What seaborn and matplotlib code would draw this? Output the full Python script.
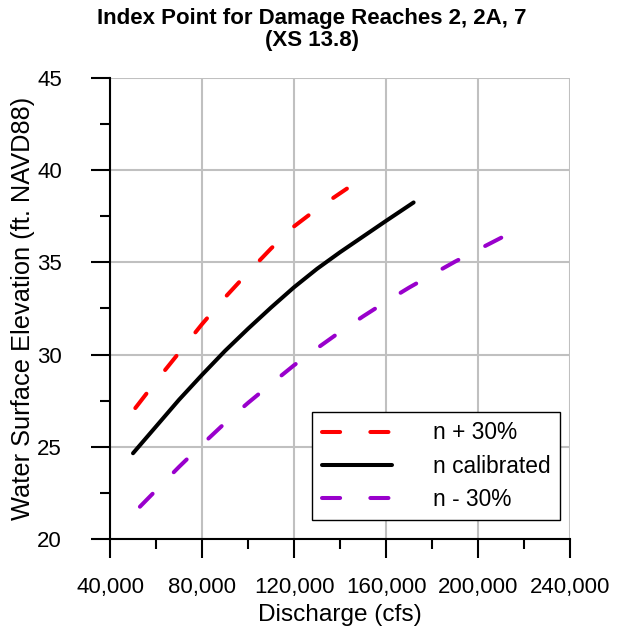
""" Rating curve sensitivity at index point XS 13.8 """

import numpy as np
import pandas as pd
import seaborn as sns
from matplotlib import pyplot as plt
from matplotlib.ticker import MultipleLocator, FuncFormatter

# Data
q_cal = [50000, 60000, 70000, 80000, 90000, 100000, 110000, 120000,
         130000, 140000, 150000, 160000, 172000]
wse_cal = [24.65, 26.1, 27.55, 28.9, 30.2, 31.4, 32.55, 33.65,
           34.65, 35.55, 36.4, 37.25, 38.25]

q_plus = [51000, 60000, 70000, 80000, 90000, 100000, 110000, 120000,
          130000, 143000]
wse_plus = [27.1, 28.55, 30.1, 31.65, 33.1, 34.45, 35.75, 36.95,
            37.9, 39.0]

q_minus = [53000, 60000, 70000, 80000, 90000, 100000, 110000, 120000,
           130000, 140000, 150000, 160000, 170000, 180000, 190000,
           200000, 212000]
wse_minus = [21.75, 22.64, 23.91, 25.12, 26.29, 27.38, 28.41, 29.42,
             30.34, 31.23, 32.07, 32.87, 33.63, 34.34, 35.04, 35.69,
             36.46]

labels = ['n + 30%', 'n calibrated', 'n - 30%']
colors = ['#ff0000', '#000000', '#9900cc']

xticks = [40000, 80000, 120000, 160000, 200000, 240000]
yticks = [20, 25, 30, 35, 40, 45]

# #############################################
sns.set_theme(style='white')
plt.rcParams['font.family'] = ['Liberation Sans', 'DejaVu Sans']
plt.rcParams['text.color'] = 'black'
plt.rcParams['axes.labelcolor'] = 'black'

fig = plt.figure(figsize=(6.24, 6.35), dpi=100)
ax = fig.add_axes([0.1763, 0.1512, 0.7372, 0.726])

dash = (0, (4.5, 7.5))
series = [(q_plus, wse_plus, dash), (q_cal, wse_cal, '-'),
          (q_minus, wse_minus, dash)]
for (qq, ww, ls), lbl, clr in zip(series, labels, colors):
    df = pd.DataFrame({'Q': qq, 'WSE': ww})
    sns.lineplot(data=df, x='Q', y='WSE', ax=ax, color=clr, lw=2.9,
                 linestyle=ls, dash_capstyle='round',
                 solid_capstyle='round', solid_joinstyle='round',
                 label=lbl, zorder=3)

# Axes
ax.set_xlim(40000, 240000)
ax.set_ylim(20, 45)
ax.set_xticks(xticks)
ax.set_yticks(yticks)
ax.xaxis.set_minor_locator(MultipleLocator(20000))
ax.yaxis.set_minor_locator(MultipleLocator(2.5))
ax.xaxis.set_major_formatter(FuncFormatter(lambda v, p: f'{int(v):,}'))
ax.grid(True, which='major', color='#c0c0c0', lw=1.5, zorder=0)
ax.set_axisbelow(True)

for side in ['top', 'right']:
    ax.spines[side].set_visible(False)
for side in ['left', 'bottom']:
    ax.spines[side].set_color('black')
    ax.spines[side].set_linewidth(1.5)

ax.tick_params(which='major', direction='out', length=13.5, width=1.5,
               color='black', labelsize=16, labelcolor='black')
ax.tick_params(which='minor', direction='out', length=7, width=1.5,
               color='black')
ax.tick_params(axis='x', which='major', pad=14)
ax.tick_params(axis='y', which='major', pad=21)
ax.tick_params(bottom=True, left=True, which='both')

ax.set_xlabel('Discharge (cfs)', fontsize=17.6, color='black', labelpad=4)
ax.set_ylabel('Water Surface Elevation (ft. NAVD88)', fontsize=18.3,
              color='black', labelpad=2)

fig.suptitle('Index Point for Damage Reaches 2, 2A, 7\n(XS 13.8)',
             x=0.5, y=0.987, fontsize=16, fontweight='bold',
             color='black', linespacing=1.05, va='top')

leg = ax.legend(loc='lower right', bbox_to_anchor=(0.978, 0.041),
                borderaxespad=0, fontsize=16.4, frameon=True, fancybox=False,
                framealpha=1, edgecolor='black', handlelength=3.1,
                handletextpad=1.8, borderpad=0.4, labelspacing=0.45)
leg.get_frame().set_linewidth(1.0)
for txt in leg.get_texts():
    txt.set_color('black')

plt.savefig('out.png', dpi=100)
print("Saved: out.png")
